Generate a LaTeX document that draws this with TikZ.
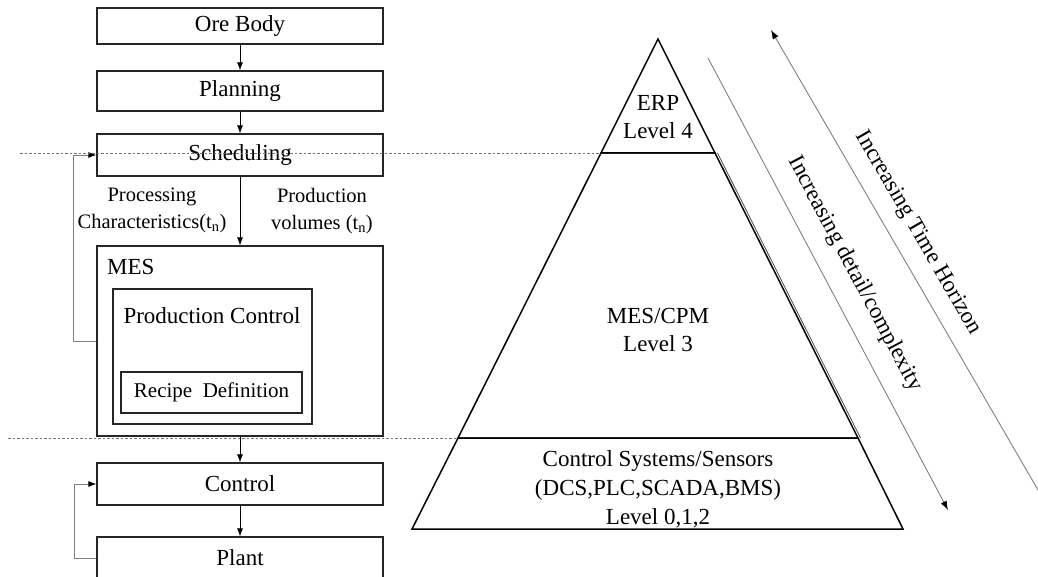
\documentclass[tikz,border=0pt]{standalone}
\usepackage{fontspec}
\setmainfont{Liberation Serif}
\usetikzlibrary{arrows.meta}
\begin{document}
\begin{tikzpicture}[x=1pt,y=-1pt,
  box/.style={draw=black!85, line width=1.2pt, minimum width=286pt, inner sep=0pt,
    font=\fontsize{23}{28}\selectfont},
  lbl/.style={font=\fontsize{23}{28}\selectfont, inner sep=0pt, align=center},
  small/.style={font=\fontsize{20.5}{27}\selectfont, inner sep=0pt, align=center},
  tip/.style={-{Latex[length=8pt,width=6pt]}},
  arr/.style={tip, draw=black, line width=0.8pt},
  fb/.style={-{Latex[length=8pt,width=6pt,color=black]}, draw=black!50, line width=0.9pt},
  dashline/.style={draw=black!55, line width=0.6pt, dash pattern=on 2.5pt off 2pt},
  pyr/.style={draw=black, line width=1.5pt, line join=miter},
  trend/.style={-{Latex[length=9pt,width=6.5pt,color=black]}, draw=black!50, line width=0.9pt}]
\useasboundingbox (0,0) rectangle (1038,577);
\clip (0,0) rectangle (1038,577);

% ---- process chain on the left ----
\node[box, minimum height=36pt] (ore) at (240,26) {Ore Body};
\node[box, minimum height=40pt] (plan) at (240,91) {Planning};
\node[box, minimum height=42pt] (sched) at (240,155) {Scheduling};
\node[box, minimum height=190pt] (mes) at (240,341) {};
\node[lbl, anchor=west] (meslbl) at (107,267) {MES};
\node[box, minimum width=199pt, minimum height=135pt] (pc) at (212.5,356.5) {};
\node[lbl] (pclbl) at (212,316) {Production Control};
\node[box, minimum width=181pt, minimum height=41pt, font=\fontsize{21}{25}\selectfont]
  (recipe) at (211.5,392.5) {Recipe\ \ Definition};
\node[box, minimum height=42pt] (ctrl) at (240,484) {Control};
\node[box, minimum height=42pt] (plant) at (240,558) {Plant};

\node[small] (pch) at (152,210.5) {Processing\\Characteristics(t\textsubscript{n})};
\node[small] (pvol) at (322,211) {Production\\volumes (t\textsubscript{n})};

\draw[arr] (ore) -- (plan);
\draw[arr] (plan) -- (sched);
\draw[arr] (sched) -- (mes);
\draw[arr] (mes) -- (ctrl);
\draw[arr] (ctrl) -- (plant);

% feedback loops
\draw[fb] (mes.west) -- ++(-23,0) |- (sched.west);
\draw[fb] (plant.west) -- ++(-22,0) |- (ctrl.west);

% ---- automation pyramid ----
\coordinate (apex) at (658,39);
\coordinate (erpL) at (601,153);
\coordinate (erpR) at (715,153);
\coordinate (mesL) at (458,438);
\coordinate (mesR) at (858,438);
\coordinate (baseL) at (412,529);
\coordinate (baseR) at (903,529);

% level boundaries continued to the left
\coordinate (dA) at (20,153);
\coordinate (dB) at (8,438);
\draw[dashline] (dA) -- (erpL);
\draw[dashline] (dB) -- (mesL);

\draw[pyr] (apex) -- (erpR) -- (erpL) -- cycle;
\draw[pyr] (erpL) -- (erpR) -- (mesR) -- (mesL) -- cycle;
\draw[draw=black!70, line width=0.8pt] ([xshift=2.5pt]erpR) -- ([xshift=2.5pt]mesR);
\draw[pyr] (mesL) -- (mesR) -- (baseR) -- (baseL) -- cycle;

\node[lbl] (erp) at (658,117) {ERP\\Level 4};
\node[lbl] (l3) at (658,330) {MES/CPM\\Level 3};
\node[lbl, font=\fontsize{23}{29}\selectfont] (l012) at (658,489)
  {Control Systems/Sensors\\(DCS,PLC,SCADA,BMS)\\Level 0,1,2};

% ---- trend arrows ----
\coordinate (dS) at (708,58);
\coordinate (dE) at (948,510);
\draw[trend] (dS) -- (dE);
\coordinate (tT) at (771,30);
\coordinate (tB) at (1045,502);
\draw[trend] (tB) -- (tT);

\node[lbl, rotate=-62] (dtxt) at (855,274) {Increasing detail/complexity};
\node[lbl, rotate=-60] (ttxt) at (918,233) {Increasing Time Horizon};
\end{tikzpicture}
\end{document}
